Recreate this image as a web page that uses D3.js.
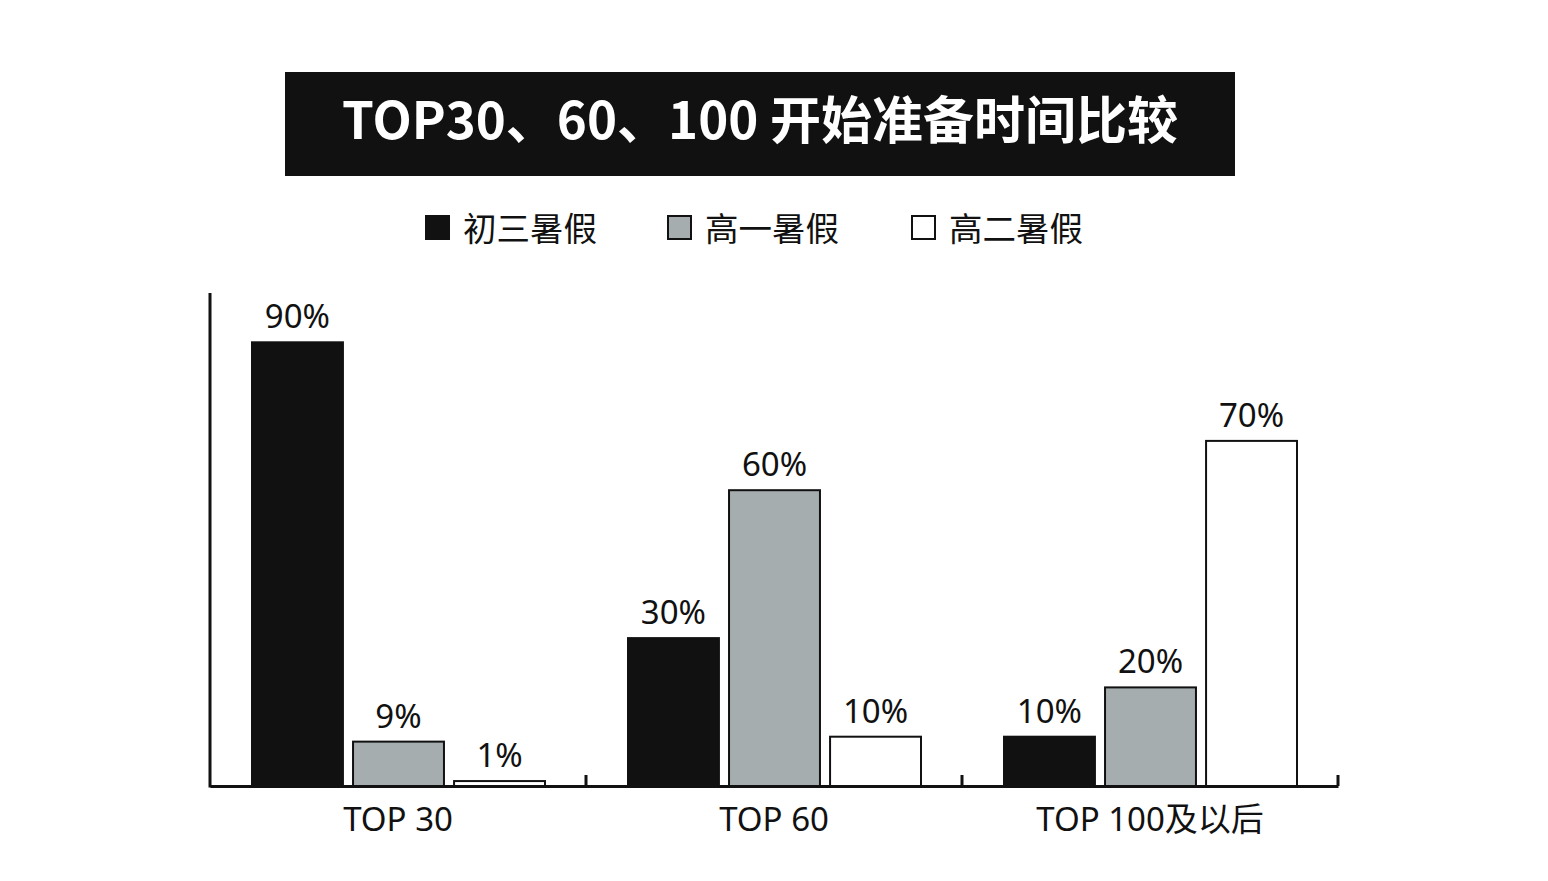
<!DOCTYPE html>
<html>
<head>
<meta charset="utf-8">
<script src="https://cdn.jsdelivr.net/npm/d3@7"></script>
<style>
  body { margin: 0; background: #fff; }
  text { font-family: "Noto Sans", "Noto Sans CJK SC", sans-serif; }
</style>
</head>
<body>
<div class="canvas"></div>
<script>
const categories = ['TOP 30', 'TOP 60', 'TOP 100及以后']
const seriesNames = ['初三暑假', '高一暑假', '高二暑假']
const chuSan = [90, 30, 10]
const gaoYi = [9, 60, 20]
const gaoEr = [1, 10, 70]

const dims = { width: 1548, height: 881 }
const plot = { left: 210, right: 1338, top: 293, bottom: 786 }

const svg = d3.select('.canvas')
    .append('svg')
    .attr('width', dims.width)
    .attr('height', dims.height)

// title box
svg.append('rect')
    .attr('x', 285).attr('y', 72)
    .attr('width', 950).attr('height', 104)
    .attr('fill', '#111')

svg.append('text')
    .attr('x', 760).attr('y', 139)
    .attr('text-anchor', 'middle')
    .attr('fill', '#fff')
    .attr('font-size', 51)
    .attr('font-weight', 'bold')
    .style('font-family', '"Noto Sans CJK SC", "Noto Sans", sans-serif')
    .text('TOP30、60、100 开始准备时间比较')

const colour = d3.scaleOrdinal()
    .domain(seriesNames)
    .range(['#111111', '#a5adae', '#ffffff'])

// legend
const legendX = [426, 668, 912]
const legend = svg.append('g')
seriesNames.forEach((name, i) => {
    legend.append('rect')
        .attr('x', legendX[i]).attr('y', 216)
        .attr('width', 23).attr('height', 23)
        .attr('fill', colour(name))
        .attr('stroke', '#111').attr('stroke-width', 2)
    legend.append('text')
        .attr('x', legendX[i] + 37).attr('y', 241)
        .attr('font-size', 33.5)
        .attr('fill', '#111')
        .style('font-family', '"Noto Sans CJK SC", sans-serif')
        .text(name)
})

const x0 = d3.scaleBand()
    .domain(categories)
    .range([plot.left, plot.right])
    .paddingInner(0)
    .paddingOuter(0)

const x1 = d3.scaleBand()
    .domain(seriesNames)
    .range([42, x0.bandwidth() - 41])
    .paddingInner(0.1)
    .paddingOuter(0)

const y = d3.scaleLinear()
    .domain([0, 100])
    .range([plot.bottom, plot.top])

const data = categories.map((c, i) => ({
    cat: c,
    values: [chuSan[i], gaoYi[i], gaoEr[i]].map((v, j) => ({ name: seriesNames[j], value: v }))
}))

const groups = svg.append('g').selectAll('g')
    .data(data)
    .enter().append('g')
    .attr('transform', d => `translate(${x0(d.cat)},0)`)

groups.selectAll('rect')
    .data(d => d.values)
    .enter().append('rect')
    .attr('x', d => x1(d.name))
    .attr('y', d => y(d.value))
    .attr('width', x1.bandwidth())
    .attr('height', d => plot.bottom - y(d.value))
    .attr('fill', d => colour(d.name))
    .attr('stroke', '#111')
    .attr('stroke-width', 2)

groups.selectAll('text')
    .data(d => d.values)
    .enter().append('text')
    .attr('x', d => x1(d.name) + x1.bandwidth() / 2)
    .attr('y', d => y(d.value) - 14)
    .attr('text-anchor', 'middle')
    .attr('font-size', 33)
    .attr('fill', '#111')
    .text(d => d.value + '%')

// axes
const xAxis = d3.axisBottom(x0).tickSize(0).tickPadding(16)
const xg = svg.append('g')
    .attr('transform', `translate(0,${plot.bottom})`)
    .call(xAxis)
xg.select('.domain').attr('stroke', '#111').attr('stroke-width', 3)
xg.selectAll('text')
    .attr('font-size', 33)
    .attr('fill', '#111')
    .attr('dy', '0.88em')
    .style('font-family', '"Noto Sans", "Noto Sans CJK SC", sans-serif')

// group separator ticks
svg.append('g').selectAll('line')
    .data(categories)
    .enter().append('line')
    .attr('x1', d => x0(d) + x0.bandwidth())
    .attr('x2', d => x0(d) + x0.bandwidth())
    .attr('y1', plot.bottom)
    .attr('y2', plot.bottom - 11)
    .attr('stroke', '#111')
    .attr('stroke-width', 3)

svg.append('line')
    .attr('x1', plot.left).attr('x2', plot.left)
    .attr('y1', y(100)).attr('y2', plot.bottom + 1.5)
    .attr('stroke', '#111')
    .attr('stroke-width', 3)
</script>
</body>
</html>
